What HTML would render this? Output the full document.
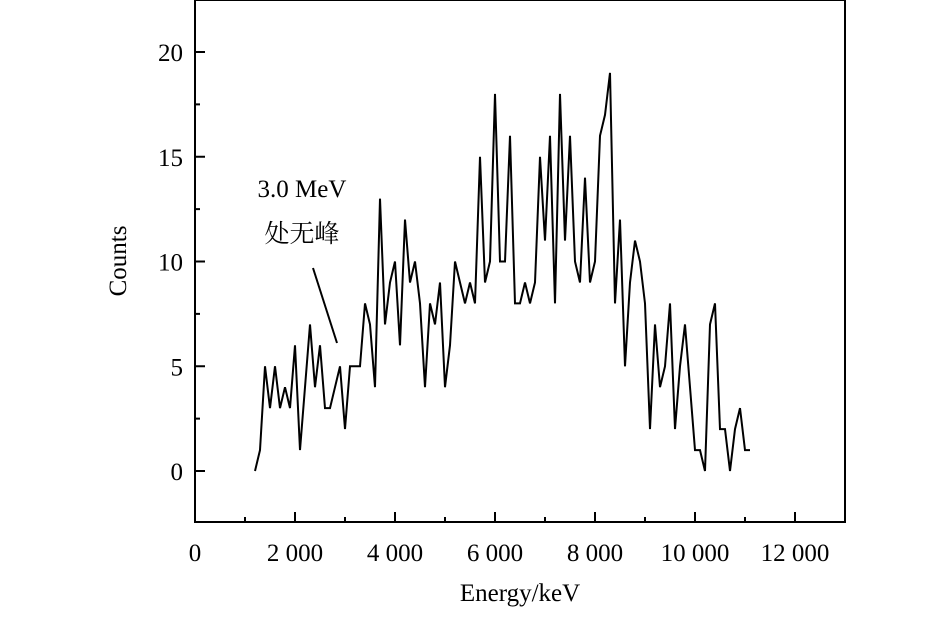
<!DOCTYPE html>
<html><head><meta charset="utf-8"><style>
body{margin:0;background:#fff;}
svg text{font-family:"Liberation Serif","Noto Serif CJK SC",serif;fill:#000;}
</style></head><body>
<svg id="chart" width="945" height="613" viewBox="0 0 945 613" xmlns="http://www.w3.org/2000/svg">
<rect x="195" y="0" width="650" height="522" fill="none" stroke="#000" stroke-width="2"/>
<g id="ticks"></g>
<path id="series" fill="none" stroke="#000" stroke-width="2" stroke-linejoin="miter"/>
<text x="520" y="601" font-size="25" text-anchor="middle">Energy/keV</text>
<text transform="translate(126,261) rotate(-90)" font-size="25" text-anchor="middle">Counts</text>
<text x="302" y="197" font-size="25" text-anchor="middle">3.0 MeV</text>
<text x="302" y="242" font-size="25" text-anchor="middle">处无峰</text>
<line x1="313" y1="268" x2="337" y2="343" stroke="#000" stroke-width="2"/>
</svg>
<script>
const energies = [];
for (let i = 0; i < 100; i++) energies.push(1200 + 100 * i);
const counts = [0,1,5,3,5,3,4,3,6,1,4,7,4,6,3,3,4,5,2,5,5,5,8,7,4,13,7,9,10,6,12,9,10,8,4,8,7,9,4,6,10,9,8,9,8,15,9,10,18,10,10,16,8,8,9,8,9,15,11,16,8,18,11,16,10,9,14,9,10,16,17,19,8,12,5,9,11,10,8,2,7,4,5,8,2,5,7,4,1,1,0,7,8,2,2,0,2,3,1,1,1];
const xTicks = [0,2000,4000,6000,8000,10000,12000];
const xTickLabels = ["0","2 000","4 000","6 000","8 000","10 000","12 000"];
const yTicks = [0,5,10,15,20];
const yTickLabels = ["0","5","10","15","20"];

const xs = v => 195 + v * 0.05;
const ys = v => 471 - v * 20.95;
const NS = "http://www.w3.org/2000/svg";

let d = "";
for (let i = 0; i < counts.length && i < energies.length; i++) {
  d += (i ? "L" : "M") + xs(energies[i]).toFixed(1) + "," + ys(counts[i]).toFixed(1);
}
document.getElementById("series").setAttribute("d", d);

const g = document.getElementById("ticks");
function line(x1,y1,x2,y2){
  const l = document.createElementNS(NS,"line");
  l.setAttribute("x1",x1);l.setAttribute("y1",y1);l.setAttribute("x2",x2);l.setAttribute("y2",y2);
  l.setAttribute("stroke","#000");l.setAttribute("stroke-width","2");
  
  
  g.appendChild(l);
}
xTicks.forEach((v,i) => {
  line(xs(v),522,xs(v),512);
  if (i < xTicks.length) line(xs(v+1000),522,xs(v+1000),517);
  const t = document.createElementNS(NS,"text");
  t.setAttribute("x", xs(v)); t.setAttribute("y", 561);
  t.setAttribute("font-size","25"); t.setAttribute("text-anchor","middle");
  t.textContent = xTickLabels[i];
  
  
  g.appendChild(t);
});
yTicks.forEach((v,i) => {
  line(195,ys(v),205,ys(v));
  line(195,ys(v+2.5),200,ys(v+2.5));
  const t = document.createElementNS(NS,"text");
  t.setAttribute("x", 183); t.setAttribute("y", ys(v)+9);
  t.setAttribute("font-size","25"); t.setAttribute("text-anchor","end");
  t.textContent = yTickLabels[i];
  
  
  g.appendChild(t);
});
</script>
</body></html>
